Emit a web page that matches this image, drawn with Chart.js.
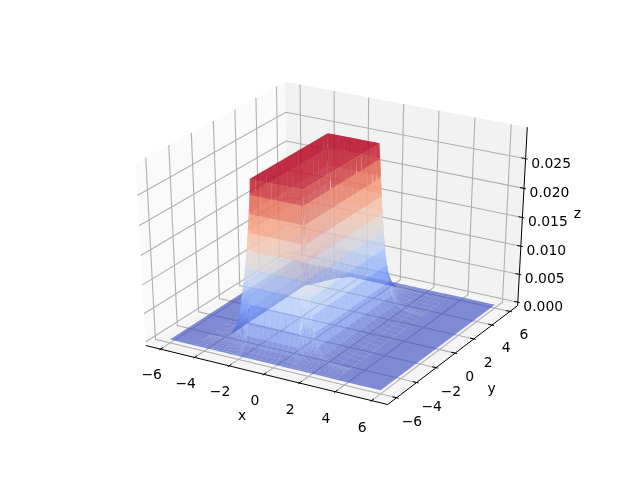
<!DOCTYPE html>
<html>
<head>
<meta charset="UTF-8"/>
<style>
html, body { margin: 0; padding: 0; background: #ffffff; overflow: hidden; }
canvas { display: block; }
</style>
<script src="https://cdn.jsdelivr.net/npm/chart.js@4/dist/chart.umd.min.js"></script>
</head>
<body>
<canvas id="myChart" width="640" height="480"></canvas>
<script>
// axis ticks
var xTicks = [-6, -4, -2, 0, 2, 4, 6];
var yTicks = [-6, -4, -2, 0, 2, 4, 6];
var zTicks = [0, 0.005, 0.01, 0.015, 0.02, 0.025];
var zTickLabels = ['0.000', '0.005', '0.010', '0.015', '0.020', '0.025'];

// surface sample positions and the height read along each direction
var zPeak = 0.0282;
var surfaceX = [-6, -4.6, -4.1, -3.65, -3.3, -3.03, -2.82, -2.65, -2.5, -2.38, -2.27, -2.18, -2.1, -2.05,
  -2.0, -1.7, -1.4, -1.1, -0.8, -0.5, -0.2, 0.1, 0.4, 0.65, 0.9,
  0.95, 1.0, 1.06, 1.12, 1.19, 1.27, 1.37, 1.52, 1.72, 1.97, 2.32, 2.85, 3.5, 6];
var surfaceXLevel = [0, 0, 0.004, 0.015, 0.04, 0.09, 0.17, 0.27, 0.375, 0.48, 0.585, 0.69, 0.8, 0.91,
  1, 1, 1, 1, 1, 1, 1, 1, 1, 1, 1,
  0.91, 0.8, 0.69, 0.585, 0.48, 0.375, 0.27, 0.17, 0.09, 0.04, 0.015, 0.004, 0, 0];
var surfaceY = [-6, -5.85, -5.6, -5.35, -5.15, -5.0, -4.9, -4.82, -4.76, -4.71, -4.67, -4.63, -4.59,
  -4.55, -4, -3.5, -3, -2.5, -2, -1.5, -1, -0.5, 0, 0.5, 1, 1.5, 2, 2.4, 2.8,
  2.88, 2.96, 3.05, 3.15, 3.27, 3.42, 3.6, 3.9, 4.3, 4.8, 5.3, 5.7, 6];
var surfaceYLevel = [0, 0.004, 0.015, 0.04, 0.09, 0.17, 0.27, 0.375, 0.48, 0.585, 0.69, 0.8, 0.91,
  1, 1, 1, 1, 1, 1, 1, 1, 1, 1, 1, 1, 1, 1, 1, 1,
  0.91, 0.8, 0.69, 0.585, 0.48, 0.375, 0.27, 0.17, 0.09, 0.04, 0.015, 0.004, 0];

// coolwarm
var cmapStops = [[59,76,192],[98,130,234],[141,176,254],[184,208,249],[221,220,219],[245,196,173],[244,152,122],[222,96,77],[180,4,38]];

var xLim = [-6.6, 6.6], yLim = [-6.6, 6.6], zLim = [0, 0.0296];
var surfaceAlpha = 0.64;

// 3d view, same as mplot3d elev 30 azim -60
var elev = 30 * Math.PI / 180, azim = -60 * Math.PI / 180, dist = 10;
var eye = [0.5 + dist * Math.cos(elev) * Math.cos(azim), 0.5 + dist * Math.cos(elev) * Math.sin(azim), 0.5 + dist * Math.sin(elev)];
var nv = [Math.cos(elev) * Math.cos(azim), Math.cos(elev) * Math.sin(azim), Math.sin(elev)];
var uLen = Math.hypot(nv[1], nv[0]);
var uv = [-nv[1] / uLen, nv[0] / uLen, 0];
var vv = [nv[1] * uv[2] - nv[2] * uv[1], nv[2] * uv[0] - nv[0] * uv[2], nv[0] * uv[1] - nv[1] * uv[0]];

function project(x, y, z) {
  var w = [(x - xLim[0]) / (xLim[1] - xLim[0]) - eye[0], (y - yLim[0]) / (yLim[1] - yLim[0]) - eye[1], (z - zLim[0]) / (zLim[1] - zLim[0]) - eye[2]];
  var cx = uv[0] * w[0] + uv[1] * w[1] + uv[2] * w[2];
  var cy = vv[0] * w[0] + vv[1] * w[1] + vv[2] * w[2];
  var cz = nv[0] * w[0] + nv[1] * w[1] + nv[2] * w[2];
  var sx = cx / -cz, sy = cy / -cz;
  return { x: 80 + (sx + 0.095) / 0.185 * 496, y: 480 - (52.8 + (sy + 0.095) / 0.185 * 369.6), depth: cz };
}

var xd = (xLim[1] - xLim[0]) / 12, yd = (yLim[1] - yLim[0]) / 12, zd = (zLim[1] - zLim[0]) / 12;
var x0 = xLim[0] - xd / 4, x1 = xLim[1] + xd / 4;
var y0 = yLim[0] - yd / 4, y1 = yLim[1] + yd / 4;
var z0 = zLim[0] - zd / 4, z1 = zLim[1] + zd / 4;

function path(pts) {
  return pts.map(function (p) { return project(p[0], p[1], p[2]); });
}

var datasets = [];
function addFill(pts, color) {
  datasets.push({ data: path(pts), showLine: true, fill: 'shape', backgroundColor: color, borderWidth: 0, pointRadius: 0, tension: 0 });
}
function addLine(pts, color, width) {
  datasets.push({ data: path(pts), showLine: true, fill: false, borderColor: color, borderWidth: width, pointRadius: 0, tension: 0 });
}
function addRect(xa, xb, ya, yb, z, color) {
  addFill([[xa,ya,z],[xb,ya,z],[xb,yb,z],[xa,yb,z],[xa,ya,z]], color);
}

// panes
addFill([[x0,y0,z0],[x0,y1,z0],[x0,y1,z1],[x0,y0,z1],[x0,y0,z0]], 'rgb(250,250,250)');
addFill([[x0,y1,z0],[x1,y1,z0],[x1,y1,z1],[x0,y1,z1],[x0,y1,z0]], 'rgb(242,242,242)');
addFill([[x0,y0,z0],[x1,y0,z0],[x1,y1,z0],[x0,y1,z0],[x0,y0,z0]], 'rgb(245,245,245)');

// grid
var gridColor = 'rgb(176,176,176)';
xTicks.forEach(function (v) { addLine([[v,y0,z0],[v,y1,z0],[v,y1,z1]], gridColor, 1.1); });
yTicks.forEach(function (v) { addLine([[x1,v,z0],[x0,v,z0],[x0,v,z1]], gridColor, 1.1); });
zTicks.forEach(function (v) { addLine([[x0,y0,v],[x0,y1,v],[x1,y1,v]], gridColor, 1.1); });

// axis lines and tick marks
addLine([[x0,y0,z0],[x1,y0,z0]], '#000000', 1);
addLine([[x1,y0,z0],[x1,y1,z0]], '#000000', 1);
addLine([[x1,y1,z0],[x1,y1,z1]], '#000000', 1);
xTicks.forEach(function (v) { addLine([[v,y0-0.1*xd,z0],[v,y0+0.2*xd,z0]], '#000000', 1); });
yTicks.forEach(function (v) { addLine([[x1+0.1*xd,v,z0],[x1-0.2*xd,v,z0]], '#000000', 1); });
zTicks.forEach(function (v) { addLine([[x1+0.1*xd,y1,v],[x1-0.2*xd,y1,v]], '#000000', 1); });

function cellColor(z) {
  var t = Math.min(1, Math.max(0, z / zPeak)) * (cmapStops.length - 1);
  var i = Math.min(cmapStops.length - 2, Math.floor(t)), f = t - i;
  var a = cmapStops[i], b = cmapStops[i + 1];
  return 'rgba(' + Math.round(a[0] + (b[0] - a[0]) * f) + ',' + Math.round(a[1] + (b[1] - a[1]) * f) + ',' + Math.round(a[2] + (b[2] - a[2]) * f) + ',' + surfaceAlpha + ')';
}

// flat floor and flat top go in as one piece each so no seams show
var topX0 = surfaceXLevel.indexOf(1), topX1 = surfaceXLevel.lastIndexOf(1);
var topY0 = surfaceYLevel.indexOf(1), topY1 = surfaceYLevel.lastIndexOf(1);
var footX0 = surfaceX[surfaceXLevel.lastIndexOf(0, topX0)], footX1 = surfaceX[surfaceXLevel.indexOf(0, topX1)];
var footY0 = surfaceY[surfaceYLevel.lastIndexOf(0, topY0)], footY1 = surfaceY[surfaceYLevel.indexOf(0, topY1)];
var xFirst = surfaceX[0], xLast = surfaceX[surfaceX.length - 1];
var yFirst = surfaceY[0], yLast = surfaceY[surfaceY.length - 1];
var floorColor = cellColor(0);
addRect(xFirst, footX0, yFirst, yLast, 0, floorColor);
addRect(footX1, xLast, yFirst, yLast, 0, floorColor);
addRect(footX0, footX1, yFirst, footY0, 0, floorColor);
addRect(footX0, footX1, footY1, yLast, 0, floorColor);

// flanks: the ones facing away first, then the top, then the ones facing us
var backCells = [], frontCells = [];
for (var i = 0; i < surfaceX.length - 1; i++) {
  for (var j = 0; j < surfaceY.length - 1; j++) {
    var ls = [surfaceXLevel[i] * surfaceYLevel[j], surfaceXLevel[i + 1] * surfaceYLevel[j], surfaceXLevel[i + 1] * surfaceYLevel[j + 1], surfaceXLevel[i] * surfaceYLevel[j + 1]];
    var mean = (ls[0] + ls[1] + ls[2] + ls[3]) / 4 * zPeak;
    if (mean === 0 || mean === zPeak) continue;
    var corners = [[surfaceX[i], surfaceY[j], ls[0] * zPeak], [surfaceX[i + 1], surfaceY[j], ls[1] * zPeak], [surfaceX[i + 1], surfaceY[j + 1], ls[2] * zPeak], [surfaceX[i], surfaceY[j + 1], ls[3] * zPeak]];
    var depth = (project.apply(null, corners[0]).depth + project.apply(null, corners[1]).depth + project.apply(null, corners[2]).depth + project.apply(null, corners[3]).depth) / 4;
    var cell = { corners: corners, color: cellColor(mean), depth: depth };
    if (i < topX0 || j >= topY1) backCells.push(cell); else frontCells.push(cell);
  }
}
function byDepth(a, b) { return a.depth - b.depth; }
backCells.sort(byDepth).forEach(function (c) { addFill(c.corners.concat([c.corners[0]]), c.color); });
addRect(surfaceX[topX0], surfaceX[topX1], surfaceY[topY0], surfaceY[topY1], zPeak, cellColor(zPeak));
frontCells.sort(byDepth).forEach(function (c) { addFill(c.corners.concat([c.corners[0]]), c.color); });

// Chart.js paints the first dataset last
datasets.reverse();

// text labels drawn at projected positions
var labelPlugin = {
  id: 'labels3d',
  afterDraw: function (chart) {
    var ctx = chart.ctx, sx = chart.scales.x, sy = chart.scales.y;
    function put(text, p, align) {
      ctx.textAlign = align;
      ctx.fillText(text, sx.getPixelForValue(p.x), sy.getPixelForValue(p.y));
    }
    ctx.save();
    ctx.fillStyle = '#000000';
    ctx.font = '13.9px "DejaVu Sans"';
    ctx.textBaseline = 'middle';
    xTicks.forEach(function (v) { put(String(v).replace('-', '\u2212'), project(v, y0 - 0.81 * xd, z0 - 1.46 * zd), 'center'); });
    yTicks.forEach(function (v) { put(String(v).replace('-', '\u2212'), project(x1 + 0.78 * xd, v, z0 - 1.5 * zd), 'center'); });
    zTicks.forEach(function (v, k) { put(zTickLabels[k], project(x1 + 0.2 * xd, y1 + 0.2 * yd, v - 0.41 * zd), 'left'); });
    put('x', project(0, y0 - 1.9 * xd, z0 - 1.85 * zd), 'center');
    put('y', project(x1 + 1.9 * xd, 0, z0 - 2.0 * zd), 'center');
    put('z', project(x1 + 1.88 * xd, y1 + 1.88 * yd, (z0 + z1) / 2 - 0.1 * zd), 'center');
    ctx.restore();
  }
};

new Chart(document.getElementById('myChart'), {
  type: 'scatter',
  data: { datasets: datasets },
  options: {
    responsive: false,
    animation: false,
    events: [],
    layout: { padding: 0 },
    plugins: { legend: { display: false }, tooltip: { enabled: false } },
    scales: {
      x: { display: false, min: 0, max: 640 },
      y: { display: false, min: 0, max: 480, reverse: true }
    }
  },
  plugins: [labelPlugin]
});
</script>
</body>
</html>
